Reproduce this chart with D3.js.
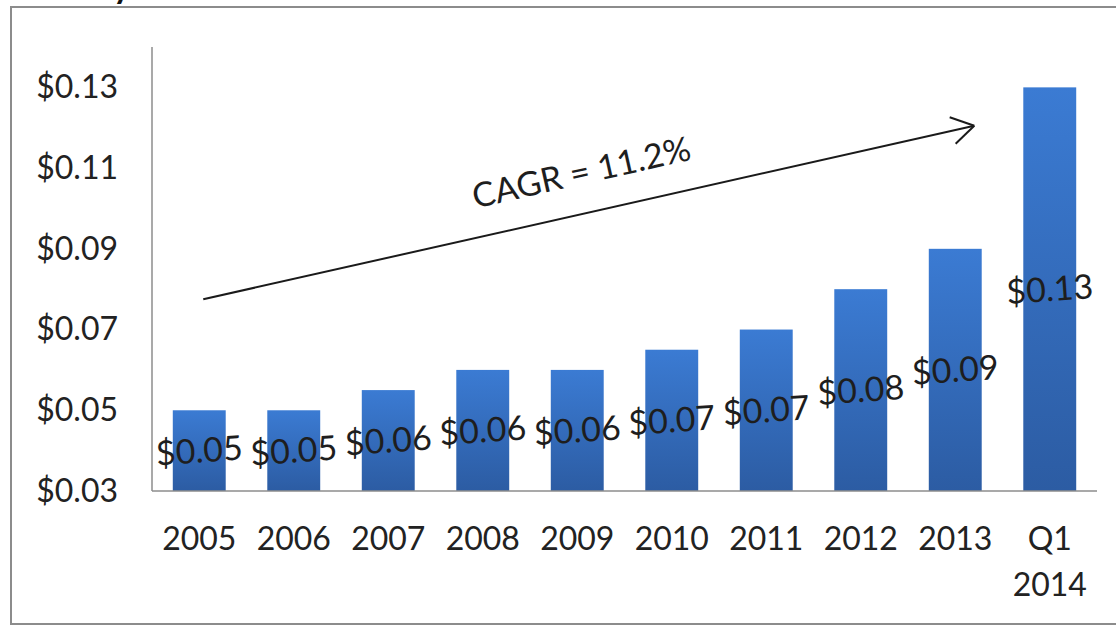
<!DOCTYPE html>
<html>
<head>
<meta charset="utf-8">
<script src="https://cdn.jsdelivr.net/npm/d3@7"></script>
<style>
  html, body { margin: 0; padding: 0; background: #fff; }
  svg { display: block; }
  text { font-family: Lato, "Open Sans", sans-serif; fill: #222; }
</style>
</head>
<body>
<svg id="chart" width="1116" height="626"></svg>
<script>
// Dividend per share by period
const periods = ["2005", "2006", "2007", "2008", "2009", "2010", "2011", "2012", "2013", "Q1 2014"];
const dividends = [0.05, 0.05, 0.055, 0.06, 0.06, 0.065, 0.07, 0.08, 0.09, 0.13];
const yTicks = [0.03, 0.05, 0.07, 0.09, 0.11, 0.13];
const growthLabel = "CAGR = 11.2%";

const svg = d3.select("#chart");
const plot = { left: 152, right: 1097, top: 47, bottom: 491 };

// frame around the chart
svg.append("rect")
  .attr("x", 11).attr("y", 7)
  .attr("width", 1200).attr("height", 617)
  .attr("fill", "none").attr("stroke", "#8c8c8c").attr("stroke-width", 2);

// descender of the heading above the frame
svg.append("text")
  .attr("x", 122).attr("y", -2)
  .attr("text-anchor", "middle")
  .attr("font-size", 34).attr("font-weight", "bold")
  .style("fill", "#111")
  .text("y");

const x = d3.scaleBand()
  .domain(periods)
  .range([plot.left, plot.right])
  .paddingInner(0.44)
  .paddingOuter(0.22);

const y = d3.scaleLinear()
  .domain([0.03, 0.14])
  .range([plot.bottom, plot.top]);

const fmtMoney = d3.format("$.2f");
const labelOf = v => fmtMoney(Math.round(Math.round(v * 1000) / 10) / 100);

// bar gradient
const defs = svg.append("defs");
const grad = defs.append("linearGradient")
  .attr("id", "barGrad")
  .attr("x1", 0).attr("y1", 0).attr("x2", 0).attr("y2", 1);
grad.append("stop").attr("offset", "0%").attr("stop-color", "#3b7bd3");
grad.append("stop").attr("offset", "100%").attr("stop-color", "#2c5ca3");

const rows = periods.map((p, i) => ({ p, v: dividends[i] }));

// bars
svg.append("g")
  .selectAll("rect")
  .data(rows)
  .join("rect")
  .attr("x", d => x(d.p))
  .attr("y", d => y(d.v))
  .attr("width", x.bandwidth())
  .attr("height", d => y(0.03) - y(d.v))
  .attr("fill", "url(#barGrad)");

// y axis
const yAxis = d3.axisLeft(y)
  .tickValues(yTicks)
  .tickSize(0)
  .tickPadding(34)
  .tickFormat(fmtMoney);
const gy = svg.append("g")
  .attr("transform", `translate(${plot.left},0)`)
  .call(yAxis);
gy.select(".domain").attr("stroke", "#8c8c8c").attr("stroke-width", 1.5)
  .attr("d", `M0,${plot.top}V${plot.bottom}`);
gy.selectAll("text")
  .attr("font-size", 32)
  .attr("font-family", "Lato, 'Open Sans', sans-serif")
  .style("fill", "#222");

// x axis
const xAxis = d3.axisBottom(x).tickSize(0).tickPadding(0).tickFormat("");
const gx = svg.append("g")
  .attr("transform", `translate(0,${plot.bottom})`)
  .call(xAxis);
gx.select(".domain").attr("stroke", "#8c8c8c").attr("stroke-width", 1.5)
  .attr("d", `M${plot.left},0H${plot.right}`);
gx.selectAll(".tick").each(function(d) {
  const lines = d.split(" ");
  const t = d3.select(this).append("text")
    .attr("text-anchor", "middle")
    .attr("font-size", 32)
    .style("fill", "#222");
  lines.forEach((ln, k) => {
    t.append("tspan").attr("x", 0).attr("y", 59 + k * 46).text(ln);
  });
});

// value labels, centred in each bar and slightly tilted
svg.append("g")
  .selectAll("text")
  .data(rows)
  .join("text")
  .attr("transform", d => {
    const cx = x(d.p) + x.bandwidth() / 2;
    const cy = (y(d.v) + y(0.03)) / 2;
    return `translate(${cx},${cy}) rotate(-4)`;
  })
  .attr("text-anchor", "middle")
  .attr("dy", "0.35em")
  .attr("font-size", 34)
  .style("fill", "#1e1e1e")
  .text(d => labelOf(d.v));

// growth arrow
const a0 = [x("2005") + x.bandwidth() / 2 + 4, y(0.0775)];
const a1 = [x("Q1 2014") - 49, y(0.1205)];
svg.append("line")
  .attr("x1", a0[0]).attr("y1", a0[1])
  .attr("x2", a1[0]).attr("y2", a1[1])
  .attr("stroke", "#1a1a1a").attr("stroke-width", 2);
const ang = Math.atan2(a1[1] - a0[1], a1[0] - a0[0]);
const head = 26, spread = 0.55;
[ang + Math.PI - spread, ang + Math.PI + spread].forEach(t => {
  svg.append("line")
    .attr("x1", a1[0]).attr("y1", a1[1])
    .attr("x2", a1[0] + head * Math.cos(t)).attr("y2", a1[1] + head * Math.sin(t))
    .attr("stroke", "#1a1a1a").attr("stroke-width", 2);
});

// growth annotation
svg.append("text")
  .attr("transform", `translate(584,184) rotate(${ang * 180 / Math.PI})`)
  .attr("text-anchor", "middle")
  .attr("font-size", 34)
  .style("fill", "#1e1e1e")
  .text(growthLabel);
</script>
</body>
</html>
